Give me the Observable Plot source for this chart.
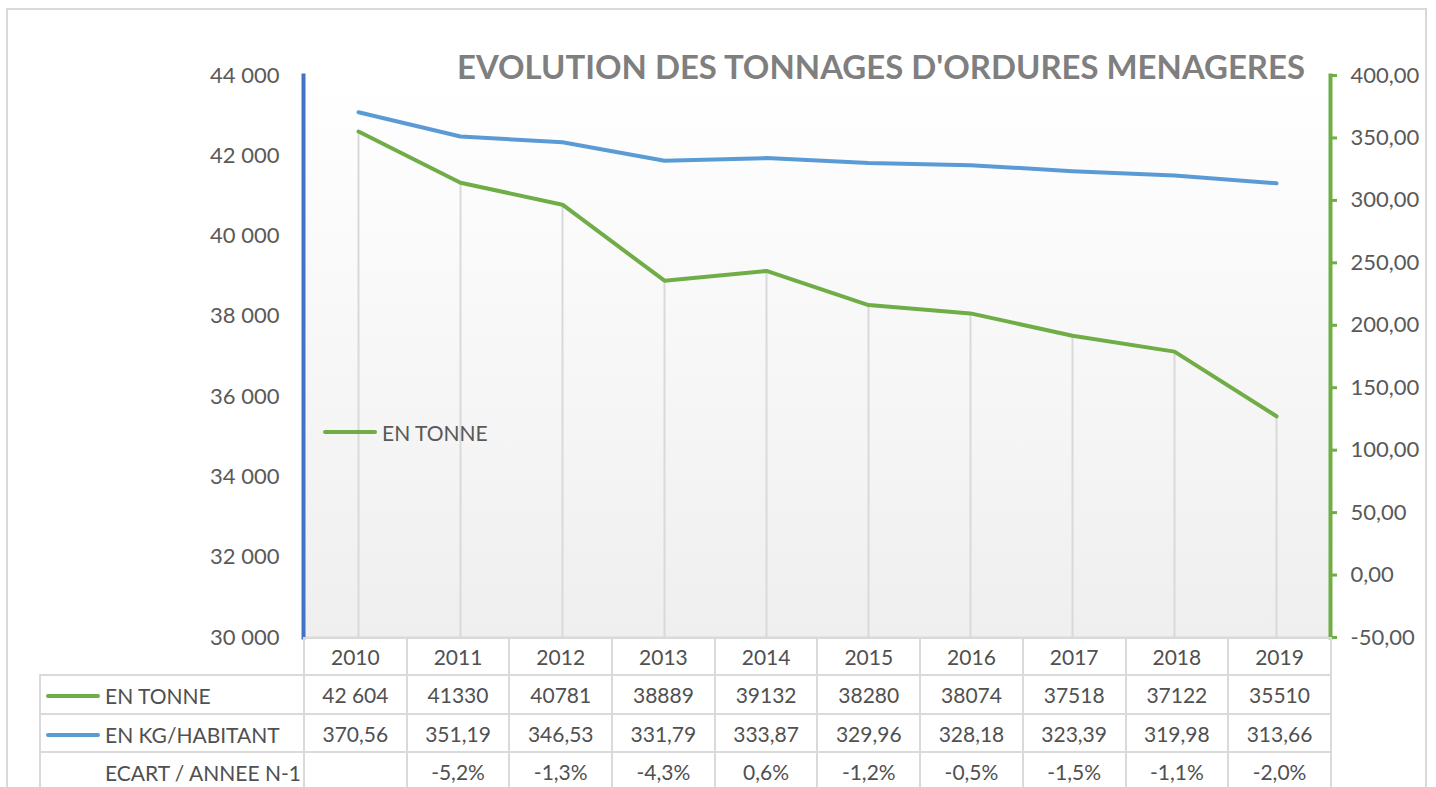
<!DOCTYPE html>
<html><head><meta charset="utf-8">
<script src="https://cdn.jsdelivr.net/npm/d3@7"></script>
<script src="https://cdn.jsdelivr.net/npm/@observablehq/plot@0.6"></script>
<style>
body{margin:0;background:#fff;font-family:Lato,"Open Sans",sans-serif;}
#wrap{position:relative;width:1436px;height:787px;overflow:hidden;}
#border{position:absolute;left:6px;top:8px;width:1421px;height:820px;border:2px solid #d9d9d9;box-sizing:border-box;}
#chart{position:absolute;left:0;top:0;}
#title{position:absolute;left:457px;top:50px;font-size:33px;line-height:33px;font-weight:700;color:#7f7f7f;white-space:nowrap;transform-origin:0 0;}
#leg{position:absolute;left:323px;top:420px;height:24px;display:flex;align-items:center;font-size:21px;color:#595959;}
.mk{display:inline-block;width:54px;height:4px;border-radius:2px;margin-right:5px;}
#tbl{position:absolute;left:39px;top:637px;border-collapse:collapse;table-layout:fixed;font-size:21px;color:#505050;}
#tbl td{border:2px solid #dadada;text-align:center;padding:0;white-space:nowrap;}
#tbl td.lab{text-align:left;padding-left:5px;}
#tbl td.blank{border-left:none;border-top:none;}
</style>
</head><body>
<div id="wrap">
  <div id="border"></div>
  <div id="chart"></div>
  <div id="title">EVOLUTION DES TONNAGES D'ORDURES MENAGERES</div>
  <div id="leg"><span class="mk" style="background:#70ad47"></span>EN TONNE</div>
  <table id="tbl"></table>
</div>
<script>
// ---- data ----
const years = [2010, 2011, 2012, 2013, 2014, 2015, 2016, 2017, 2018, 2019];
const tonnes = [42604, 41330, 40781, 38889, 39132, 38280, 38074, 37518, 37122, 35510];
const tonneLabels = ["42 604", "41330", "40781", "38889", "39132", "38280", "38074", "37518", "37122", "35510"];
const kgHab = [370.56, 351.19, 346.53, 331.79, 333.87, 329.96, 328.18, 323.39, 319.98, 313.66];
const ecart = [null, -5.2, -1.3, -4.3, 0.6, -1.2, -0.5, -1.5, -1.1, -2.0];
const leftTicks = [30000, 32000, 34000, 36000, 38000, 40000, 42000, 44000];
const rightTicks = [-50, 0, 50, 100, 150, 200, 250, 300, 350, 400];
const leftDomain = [30000, 44000];
const rightDomain = [-50, 400];
const seriesNames = ["EN TONNE", "EN KG/HABITANT", "ECART / ANNEE N-1"];
const colors = {tonne: "#70ad47", kg: "#5b9bd5", leftAxis: "#4472c4"};

// secondary axis mapping onto the primary scale
const k = (leftDomain[1] - leftDomain[0]) / (rightDomain[1] - rightDomain[0]);
const toLeft = v => leftDomain[0] + (v - rightDomain[0]) * k;
const fromLeft = v => rightDomain[0] + (v - leftDomain[0]) / k;

const data = years.map((year, i) => ({year, tonne: tonnes[i], kg: kgHab[i]}));
const fmtLeft = d => d3.format(",")(d).replace(/,/g, " ");
const fmtRight = d => (Math.round(fromLeft(d) * 100) / 100).toFixed(2).replace(".", ",");

const chart = Plot.plot({
  width: 1436, height: 640,
  marginLeft: 303, marginRight: 106, marginTop: 75, marginBottom: 3,
  style: {fontFamily: "Lato, sans-serif", fontSize: "22px", color: "#595959", background: "transparent", overflow: "visible"},
  x: {type: "point", domain: years, padding: 0.5, axis: null},
  y: {domain: leftDomain, axis: null},
  marks: [
    Plot.frame({fill: "url(#bg)", stroke: null}),
    Plot.ruleX(data, {x: "year", y1: leftDomain[0], y2: "tonne", stroke: "#d9d9d9", strokeWidth: 2}),
    Plot.ruleY([leftDomain[0]], {stroke: "#d9d9d9", strokeWidth: 2}),
    Plot.axisY({ticks: leftTicks, label: null, tickSize: 0, tickPadding: 24, tickFormat: fmtLeft, fill: "#595959", fontSize: 22}),
    Plot.axisY({anchor: "right", label: null, ticks: rightTicks.map(toLeft), tickSize: 6, tickPadding: 14, stroke: colors.tonne, strokeWidth: 3, tickFormat: fmtRight, fill: "#595959", fontSize: 22}),
    Plot.frame({anchor: "left", stroke: colors.leftAxis, strokeWidth: 4}),
    Plot.frame({anchor: "right", stroke: colors.tonne, strokeWidth: 4}),
    Plot.line(data, {x: "year", y: "tonne", stroke: colors.tonne, strokeWidth: 4, strokeLinecap: "round", strokeLinejoin: "round"}),
    Plot.line(data, {x: "year", y: d => toLeft(d.kg), stroke: colors.kg, strokeWidth: 4, strokeLinecap: "round", strokeLinejoin: "round"})
  ]
});
const svg = d3.select(chart);
const grad = svg.insert("defs", ":first-child").append("linearGradient")
  .attr("id", "bg").attr("x1", 0).attr("y1", 0).attr("x2", 0).attr("y2", 1);
grad.append("stop").attr("offset", "0%").attr("stop-color", "#ffffff");
grad.append("stop").attr("offset", "100%").attr("stop-color", "#efefef");
document.getElementById("chart").appendChild(chart);

// title width fit
const title = document.getElementById("title");
const tw = title.getBoundingClientRect().width;
title.style.transform = `scaleX(${848 / tw})`;

// data table
const tbl = d3.select("#tbl");
const cg = tbl.append("colgroup");
cg.append("col").style("width", "264px");
years.forEach(() => cg.append("col").style("width", "102.7px"));
const r0 = tbl.append("tr").style("height", "37px");
r0.append("td").attr("class", "blank");
years.forEach(y => r0.append("td").text(y));
const rows = [
  {name: seriesNames[0], color: colors.tonne, vals: tonneLabels, h: 39},
  {name: seriesNames[1], color: colors.kg, vals: kgHab.map(v => v.toFixed(2).replace(".", ",")), h: 38},
  {name: seriesNames[2], color: null, vals: ecart.map(v => v == null ? "" : v.toFixed(1).replace(".", ",") + "%"), h: 38}
];
rows.forEach(r => {
  const tr = tbl.append("tr").style("height", r.h + "px");
  const lab = tr.append("td").attr("class", "lab");
  lab.append("span").attr("class", "mk").style("background", r.color || "transparent").style("vertical-align", "middle");
  lab.append("span").text(r.name).style("vertical-align", "middle");
  r.vals.forEach(v => tr.append("td").text(v));
});
</script>
</body></html>
